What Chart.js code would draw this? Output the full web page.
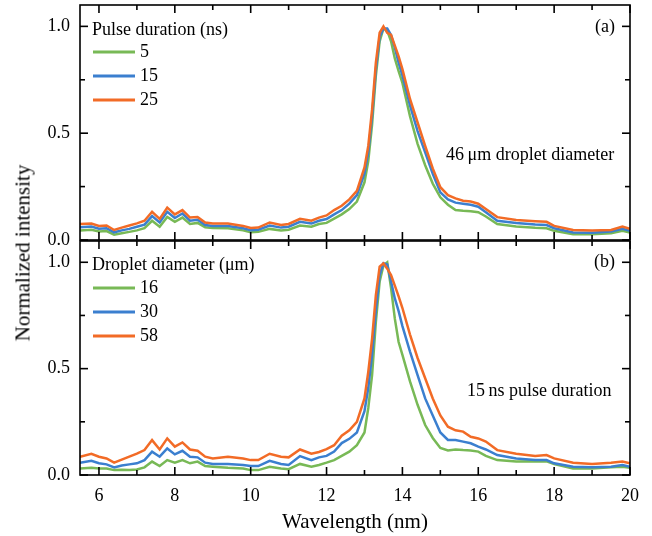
<!DOCTYPE html>
<html>
<head>
<meta charset="utf-8">
<script src="https://cdn.jsdelivr.net/npm/chart.js@4.4.1/dist/chart.umd.min.js"></script>
<style>
body { margin: 0; background: #fff; }
#wrap { position: relative; width: 652px; height: 536px; }
#wrap canvas { position: absolute; left: 0; }
#ytitle {
  position: absolute; left: 23px; top: 253px;
  transform: translate(-50%, -50%) rotate(-90deg);
  font: 21px "Liberation Serif"; white-space: nowrap; color: #000;
}
</style>
</head>
<body>
<div id="wrap">
  <canvas id="topChart" width="652" height="256" style="top:0"></canvas>
  <canvas id="botChart" width="652" height="296" style="top:240px"></canvas>
  <div id="ytitle">Normalized intensity</div>
</div>
<script>
// wavelength grid (nm)
var wavelength = [5.5, 5.8, 6.0, 6.2, 6.4, 6.6, 6.8, 7.0, 7.2, 7.4, 7.6, 7.8, 8.0, 8.2, 8.4, 8.6, 8.8, 9.0, 9.4, 9.8,
  10.0, 10.2, 10.5, 10.8, 11.0, 11.3, 11.6, 11.8, 12.0, 12.2, 12.4, 12.6, 12.8, 13.0, 13.1, 13.2, 13.3, 13.4, 13.5, 13.6,
  13.7, 13.8, 13.9, 14.0, 14.2, 14.4, 14.6, 14.8, 15.0, 15.2, 15.4, 15.6, 15.8, 16.0, 16.2, 16.5, 17.0, 17.5, 17.8, 18.0,
  18.5, 19.0, 19.5, 19.8, 20.0];

// panel (a): pulse duration
var pulseLabels = ["5", "15", "25"];
var pulse5 = [.045, .048, .040, .042, .025, .032, .038, .045, .055, .090, .062, .108, .085, .105, .075, .080, .060, .056, .055, .045,
  .036, .038, .052, .045, .048, .068, .062, .075, .080, .100, .120, .145, .180, .270, .370, .540, .770, .930, .990, .980,
  .930, .850, .790, .735, .580, .450, .350, .264, .200, .165, .140, .137, .135, .130, .110, .075, .063, .057, .055, .043,
  .027, .027, .032, .043, .035];
var pulse15 = [.060, .063, .053, .055, .036, .045, .052, .062, .072, .112, .082, .132, .103, .124, .090, .095, .070, .066, .066, .055,
  .046, .048, .068, .058, .062, .085, .077, .090, .098, .120, .140, .170, .210, .310, .410, .580, .800, .950, .990, .990,
  .960, .900, .830, .770, .630, .510, .410, .310, .223, .190, .175, .170, .165, .156, .130, .090, .080, .072, .070, .055,
  .035, .034, .040, .052, .043];
var pulse25 = [.075, .077, .066, .068, .047, .058, .068, .078, .090, .132, .099, .152, .120, .140, .105, .108, .082, .077, .077, .066,
  .056, .058, .082, .070, .075, .099, .090, .105, .115, .140, .160, .190, .230, .340, .440, .610, .830, .970, 1.00, .970,
  .960, .910, .860, .800, .660, .550, .440, .335, .247, .210, .195, .184, .180, .170, .145, .107, .094, .088, .085, .066,
  .047, .044, .047, .063, .052];

// panel (b): droplet diameter
var dropLabels = ["16", "30", "58"];
var drop16 = [.031, .034, .031, .031, .023, .025, .023, .026, .036, .063, .042, .070, .058, .070, .055, .063, .042, .039, .034, .031,
  .023, .023, .039, .031, .027, .052, .039, .047, .058, .070, .090, .110, .140, .200, .315, .470, .720, .910, .985, 1.00,
  .880, .735, .625, .565, .440, .330, .235, .174, .127, .115, .120, .117, .115, .110, .090, .070, .063, .065, .064, .052,
  .031, .031, .036, .039, .034];
var drop30 = [.058, .067, .055, .050, .036, .045, .050, .055, .070, .110, .086, .125, .097, .114, .086, .083, .058, .052, .052, .047,
  .042, .042, .067, .052, .047, .089, .070, .083, .090, .110, .150, .170, .200, .300, .410, .565, .770, .940, .995, .990,
  .910, .830, .770, .700, .580, .470, .360, .280, .200, .165, .164, .157, .149, .133, .120, .094, .078, .070, .070, .055,
  .039, .036, .039, .047, .039];
var drop58 = [.086, .100, .086, .078, .058, .072, .086, .100, .117, .164, .120, .172, .133, .153, .120, .114, .086, .078, .086, .078,
  .070, .070, .100, .086, .083, .120, .100, .108, .122, .140, .185, .210, .250, .360, .485, .640, .845, .980, .995, .970,
  .940, .890, .840, .785, .660, .550, .455, .360, .280, .227, .210, .204, .180, .172, .157, .117, .100, .089, .094, .078,
  .058, .052, .058, .063, .055];

var xMajor = [6, 8, 10, 12, 14, 16, 18, 20];
var xMinor = [7, 9, 11, 13, 15, 17, 19];
var yMajor = [0, 0.5, 1.0];
var yMinor = [0.25, 0.75];

var colors = ["#78b956", "#3b7fcf", "#f26b26"];
var FONT = "Liberation Serif";

function pts(vals) {
  return wavelength.map(function (w, i) { return { x: w, y: vals[i] }; });
}

function noPad(s) {
  s.paddingTop = 0; s.paddingBottom = 0; s.paddingLeft = 0; s.paddingRight = 0;
}

// frame with inward ticks on all four sides
const framePlugin = {
  id: "frame",
  afterDraw(chart) {
    const ctx = chart.ctx, a = chart.chartArea;
    const x = chart.scales.x, y = chart.scales.y;
    ctx.save();
    ctx.strokeStyle = "#000";
    ctx.lineWidth = 1.6;
    ctx.strokeRect(a.left, a.top, a.right - a.left, a.bottom - a.top);
    function seg(x1, y1, x2, y2) { ctx.beginPath(); ctx.moveTo(x1, y1); ctx.lineTo(x2, y2); ctx.stroke(); }
    xMajor.forEach(function (v) { var p = x.getPixelForValue(v); seg(p, a.bottom, p, a.bottom - 8); seg(p, a.top, p, a.top + 8); });
    xMinor.forEach(function (v) { var p = x.getPixelForValue(v); seg(p, a.bottom, p, a.bottom - 5); seg(p, a.top, p, a.top + 5); });
    yMajor.forEach(function (v) { var p = y.getPixelForValue(v); seg(a.left, p, a.left + 8, p); seg(a.right, p, a.right - 8, p); });
    yMinor.forEach(function (v) { var p = y.getPixelForValue(v); seg(a.left, p, a.left + 5, p); seg(a.right, p, a.right - 5, p); });
    ctx.restore();
  }
};

// legend and notes drawn inside the plot
const notesPlugin = {
  id: "notes",
  afterDraw(chart, args, o) {
    const ctx = chart.ctx;
    ctx.save();
    ctx.font = "18px " + FONT;
    ctx.fillStyle = "#000";
    ctx.textBaseline = "middle";
    ctx.textAlign = "left";
    ctx.fillText(o.title, 92, o.titleY);
    o.labels.forEach(function (lab, i) {
      var yy = o.rowY[i];
      ctx.strokeStyle = colors[i];
      ctx.lineWidth = 3;
      ctx.beginPath(); ctx.moveTo(93, yy); ctx.lineTo(135, yy); ctx.stroke();
      ctx.fillText(lab, 140, yy);
    });
    ctx.fillText(o.note, o.noteX, o.noteY);
    ctx.textAlign = "right";
    ctx.fillText(o.tag, 615, o.tagY);
    ctx.restore();
  }
};

function makePanel(id, series, notes, bottom) {
  var ds = series.map(function (s, i) {
    return {
      label: notes.labels[i], data: pts(s), borderColor: colors[i], borderWidth: 2.5,
      pointRadius: 0, fill: false, tension: 0, order: 3 - i
    };
  });
  return new Chart(document.getElementById(id), {
    type: "line",
    data: { datasets: ds },
    plugins: [framePlugin, notesPlugin],
    options: {
      responsive: false,
      animation: false,
      layout: { padding: bottom ? { top: 1, right: 22, bottom: 0, left: 0 } : { top: 5, right: 22, bottom: 16, left: 0 } },
      plugins: { legend: { display: false }, tooltip: { enabled: false }, notes: notes },
      scales: {
        x: {
          type: "linear", min: 5.5, max: 20,
          grid: { display: false, drawTicks: false }, border: { display: false },
          afterBuildTicks: function (s) { s.ticks = xMajor.map(function (v) { return { value: v }; }); },
          afterFit: function (s) { s.height = bottom ? 61 : 0; noPad(s); },
          ticks: { display: bottom, padding: 10, color: "#000", font: { family: FONT, size: 18 } },
          title: { display: bottom, text: "Wavelength (nm)", color: "#000", padding: { top: 0, bottom: 1 }, font: { family: FONT, size: 21 } }
        },
        y: {
          min: 0, max: 1.1,
          grid: { display: false, drawTicks: false }, border: { display: false },
          afterBuildTicks: function (s) { s.ticks = yMajor.map(function (v) { return { value: v }; }); },
          afterFit: function (s) { s.width = 80; noPad(s); },
          ticks: { padding: 10, color: "#000", font: { family: FONT, size: 18 }, callback: function (v) { return v.toFixed(1); } }
        }
      }
    }
  });
}

makePanel("topChart", [pulse5, pulse15, pulse25], {
  title: "Pulse duration (ns)", titleY: 30, labels: pulseLabels, rowY: [52, 76, 100],
  note: "46\u2009\u03bcm droplet diameter", noteX: 446, noteY: 155, tag: "(a)", tagY: 27
}, false);

makePanel("botChart", [drop16, drop30, drop58], {
  title: "Droplet diameter (\u03bcm)", titleY: 25, labels: dropLabels, rowY: [48, 72, 96],
  note: "15\u2009ns pulse duration", noteX: 467, noteY: 151, tag: "(b)", tagY: 22
}, true);
</script>
</body>
</html>
